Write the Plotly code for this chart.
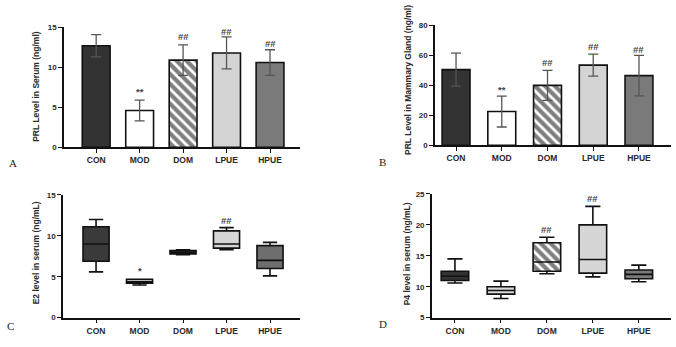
import plotly.graph_objects as go

categories = ["CON", "MOD", "DOM", "LPUE", "HPUE"]

# Panel A: PRL in serum (mean, SD)
a_mean = [12.7, 4.6, 10.9, 11.8, 10.6]
a_err = [1.4, 1.3, 1.9, 2.0, 1.6]
a_marks = ["", "**", "##", "##", "##"]
a_mark_y = [None, 7.0, 13.8, 14.5, 13.0]

# Panel B: PRL in mammary gland
b_mean = [50.5, 22.5, 40.0, 53.5, 46.5]
b_err = [11.0, 10.3, 10.0, 7.3, 13.5]
b_marks = ["", "**", "##", "##", "##"]
b_mark_y = [None, 37, 55, 66, 64]

# Panel C: E2 boxes
c_q1 = [6.9, 4.2, 7.8, 8.5, 6.0]
c_med = [9.0, 4.4, 8.0, 9.0, 7.0]
c_q3 = [11.1, 4.7, 8.2, 10.6, 8.8]
c_lo = [5.6, 4.0, 7.7, 8.3, 5.1]
c_hi = [12.0, 4.7, 8.3, 11.0, 9.2]
c_marks = ["", "*", "", "##", ""]
c_mark_y = [None, 5.8, None, 11.9, None]

# Panel D: P4 boxes
d_q1 = [11.0, 8.8, 12.5, 12.2, 11.3]
d_med = [11.7, 9.4, 14.0, 14.4, 12.0]
d_q3 = [12.5, 10.0, 17.1, 20.0, 12.7]
d_lo = [10.6, 8.1, 12.1, 11.6, 10.8]
d_hi = [14.5, 10.9, 18.0, 23.0, 13.5]
d_marks = ["", "", "##", "##", ""]
d_mark_y = [None, None, 19.2, 24.2, None]

bar_colors = ["#333333", "#ffffff", "#ffffff", "#d4d4d4", "#7a7a7a"]
c_colors = ["#3a3a3a", "#f4f4f4", "#444444", "#d6d6d6", "#6e6e6e"]
d_colors = ["#333333", "#d8d8d8", "rgba(0,0,0,0)", "#d6d6d6", "#7a7a7a"]

xs = list(range(len(categories)))
fig = go.Figure()

HATCH = dict(shape="\\", fgcolor="#000000", bgcolor="#ffffff", size=7, solidity=0.6)

def add_bars(mean, err, axis_x, axis_y, width):
    for i in xs:
        pat = HATCH if categories[i] == "DOM" else dict(shape="")
        fig.add_trace(go.Bar(
            x=[i], y=[mean[i]], width=width, xaxis=axis_x, yaxis=axis_y,
            marker=dict(color=bar_colors[i], line=dict(color="#111111", width=1.6), pattern=pat),
            error_y=dict(type="data", array=[err[i]], color="#555555", thickness=1.3, width=5),
            showlegend=False, hoverinfo="skip"))

def add_boxes(q1, med, q3, lo, hi, colors, axis_x, axis_y, hatch_idx=None):
    for i in xs:
        if hatch_idx is not None and i == hatch_idx:
            fig.add_trace(go.Bar(
                x=[i], y=[q3[i] - q1[i]], base=[q1[i]], width=0.6, xaxis=axis_x, yaxis=axis_y,
                marker=dict(color="#ffffff", line=dict(width=0), pattern=HATCH),
                showlegend=False, hoverinfo="skip"))
        fig.add_trace(go.Box(
            x=[i], q1=[q1[i]], median=[med[i]], q3=[q3[i]],
            lowerfence=[lo[i]], upperfence=[hi[i]], width=0.6, whiskerwidth=0.55,
            fillcolor=colors[i], line=dict(color="#111111", width=1.6),
            xaxis=axis_x, yaxis=axis_y, showlegend=False, hoverinfo="skip"))

add_bars(a_mean, a_err, "x", "y", 0.64)
add_bars(b_mean, b_err, "x2", "y2", 0.61)
add_boxes(c_q1, c_med, c_q3, c_lo, c_hi, c_colors, "x3", "y3")
add_boxes(d_q1, d_med, d_q3, d_lo, d_hi, d_colors, "x4", "y4", hatch_idx=2)

tickfont = dict(family="Liberation Sans, Arial", size=8.5, color="#2a2a2a", weight="bold")

def xaxis(domain, rng, anchor):
    return dict(domain=domain, range=rng, anchor=anchor, tickvals=xs, ticktext=categories,
                showline=True, linecolor="#111111", linewidth=1.6, ticks="outside",
                ticklen=4, tickwidth=1.2, tickcolor="#111111", tickfont=tickfont,
                showgrid=False, zeroline=False, fixedrange=True)

def yaxis(domain, rng, dtick, anchor):
    return dict(domain=domain, range=rng, anchor=anchor, dtick=dtick, tick0=rng[0],
                showline=True, linecolor="#111111", linewidth=1.6, ticks="outside",
                ticklen=4, tickwidth=1.2, tickcolor="#111111",
                tickfont=dict(family="Liberation Sans, Arial", size=8, color="#2a2a2a", weight="bold"),
                showgrid=False, zeroline=False, fixedrange=True)

fig.update_layout(
    width=676, height=347, margin=dict(l=0, r=0, t=0, b=0),
    paper_bgcolor="#ffffff", plot_bgcolor="#ffffff", barmode="overlay",
    xaxis=xaxis([0.0947, 0.4438], [-0.74, 4.69], "y"),
    yaxis=yaxis([0.5764, 0.9308], [0, 15], 5, "x"),
    xaxis2=xaxis([0.6435, 0.9926], [-0.46, 4.70], "y2"),
    yaxis2=yaxis([0.5821, 0.9366], [0, 80], 20, "x2"),
    xaxis3=xaxis([0.0932, 0.4438], [-0.76, 4.69], "y3"),
    yaxis3=yaxis([0.0720, 0.4352], [0, 15], 5, "x3"),
    xaxis4=xaxis([0.639, 0.9926], [-0.5, 4.7], "y4"),
    yaxis4=yaxis([0.0720, 0.4380], [5, 25], 5, "x4"),
)

ann = []
def add_marks(marks, ys, xr, yr):
    for i in xs:
        if marks[i]:
            ann.append(dict(x=i, y=ys[i], xref=xr, yref=yr, text=marks[i], showarrow=False,
                            xanchor="center", yanchor="middle",
                            font=dict(family="Liberation Sans, Arial", size=9.5, color="#444444",
                                      weight="bold")))

add_marks(a_marks, a_mark_y, "x", "y")
add_marks(b_marks, b_mark_y, "x2", "y2")
add_marks(c_marks, c_mark_y, "x3", "y3")
add_marks(d_marks, d_mark_y, "x4", "y4")

titles = [
    ("PRL Level in Serum (ng/ml)", 36, 85),
    ("PRL Level in Mammary Gland (ng/ml)", 408, 78),
    ("E2 level in serum (ng/mL)", 36, 256),
    ("P4 level in serum (ng/mL)", 407, 257),
]
for t, px, py in titles:
    ann.append(dict(x=px / 676, y=1 - py / 347, xref="paper", yref="paper", text=t, textangle=-90,
                    showarrow=False, xanchor="center", yanchor="middle",
                    font=dict(family="Liberation Sans, Arial", size=8.5, color="#2a2a2a", weight="bold")))

letters = [("A", 13, 163), ("B", 383, 162), ("C", 10, 331), ("D", 383, 329)]
for t, px, py in letters:
    ann.append(dict(x=px / 676, y=1 - py / 347, xref="paper", yref="paper", text=t,
                    showarrow=False, xanchor="center", yanchor="middle",
                    font=dict(family="Liberation Serif, Times New Roman", size=11, color="#222222")))

fig.update_layout(annotations=ann)
fig.write_html("out.html")
